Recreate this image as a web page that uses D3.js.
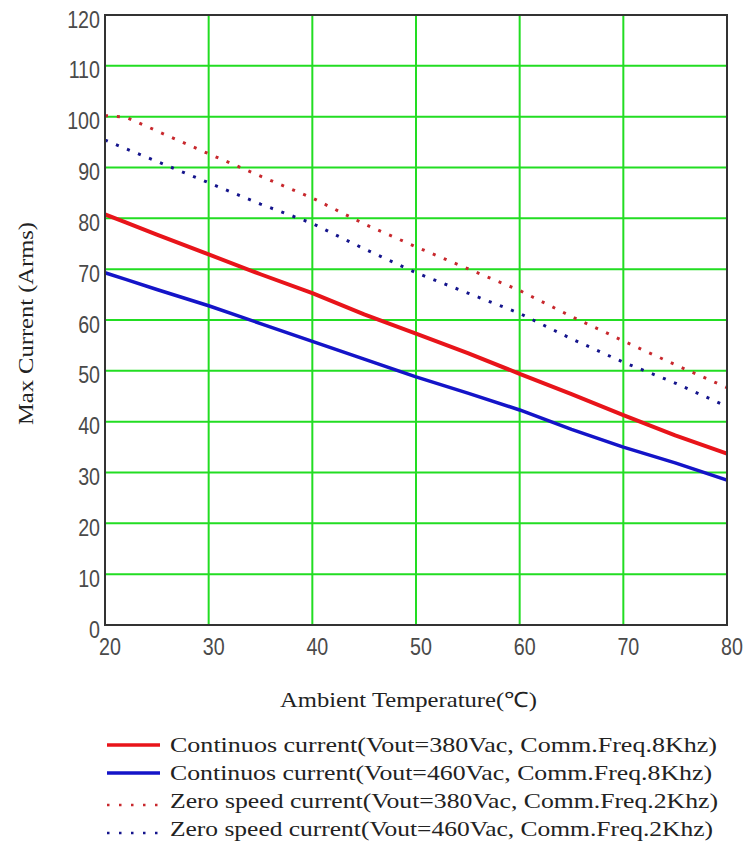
<!DOCTYPE html>
<html>
<head>
<meta charset="utf-8">
<script src="https://cdn.jsdelivr.net/npm/d3@7"></script>
<style>
  html, body { margin: 0; padding: 0; background: #ffffff; }
  svg { display: block; }
</style>
</head>
<body>
<svg id="chart" width="748" height="859"></svg>
<script>
// ---- data ----
const temps      = [20, 22, 25, 30, 35, 40, 45, 50, 55, 60, 65, 70, 75, 80];
const redSolid   = [80.8, 79.2, 76.8, 72.9, 69.0, 65.3, 61.1, 57.3, 53.5, 49.4, 45.4, 41.3, 37.3, 33.7];
const blueSolid  = [69.3, 68.0, 66.0, 62.8, 59.3, 55.8, 52.3, 48.8, 45.6, 42.3, 38.5, 35.0, 31.9, 28.5];
const redDotted  = [100.2, 99.9, 97.2, 92.7, 88.3, 84.0, 78.9, 74.4, 70.1, 65.8, 60.7, 55.9, 51.2, 46.7];
const blueDotted = [95.4, 93.7, 91.2, 87.0, 82.8, 79.0, 74.0, 69.3, 65.3, 61.3, 56.3, 51.7, 47.6, 43.0];
const xTicks = [20, 30, 40, 50, 60, 70, 80];
const yTicks = [0, 10, 20, 30, 40, 50, 60, 70, 80, 90, 100, 110, 120];
const xTitle = "Ambient Temperature(\u2103)";
const yTitle = "Max Current (Arms)";
const legendLabels = [
  "Continuos current(Vout=380Vac, Comm.Freq.8Khz)",
  "Continuos current(Vout=460Vac, Comm.Freq.8Khz)",
  "Zero speed current(Vout=380Vac, Comm.Freq.2Khz)",
  "Zero speed current(Vout=460Vac, Comm.Freq.2Khz)"
];

// ---- layout ----
const svg = d3.select("#chart");
const L = 105, R = 727, T = 15, B = 625;
const x = d3.scaleLinear().domain([20, 80]).range([L, R]);
const y = d3.scaleLinear().domain([0, 120]).range([B, T]);

const series = [
  { vals: redSolid,   color: "#e8141a", width: 4,   dash: null },
  { vals: blueSolid,  color: "#1414c8", width: 3.5, dash: null },
  { vals: redDotted,  color: "#c8282d", width: 3,   dash: "3,8.9" },
  { vals: blueDotted, color: "#14148c", width: 3,   dash: "3,8.9" }
];

// grid
const grid = svg.append("g");
grid.selectAll("line.h").data(yTicks.filter(v => v > 0 && v < 120)).join("line")
  .attr("x1", L).attr("x2", R).attr("y1", d => y(d)).attr("y2", d => y(d))
  .attr("stroke", "#22dd22").attr("stroke-width", 2);
grid.selectAll("line.v").data(xTicks.filter(v => v > 20 && v < 80)).join("line")
  .attr("y1", T).attr("y2", B).attr("x1", d => x(d)).attr("x2", d => x(d))
  .attr("stroke", "#22dd22").attr("stroke-width", 2);

// series
const line = d3.line().x((d, i) => x(temps[i])).y(d => y(d));
svg.append("g").selectAll("path").data(series).join("path")
  .attr("d", s => line(s.vals))
  .attr("fill", "none")
  .attr("stroke", s => s.color)
  .attr("stroke-width", s => s.width)
  .attr("stroke-dasharray", s => s.dash)
  .attr("stroke-linejoin", "round");

// frame
svg.append("rect").attr("x", L).attr("y", T).attr("width", R - L).attr("height", B - T)
  .attr("fill", "none").attr("stroke", "#333").attr("stroke-width", 2);

// axes (labels only)
const sx = 0.82;
const xAxis = svg.append("g").attr("transform", `translate(0,${B})`)
  .call(d3.axisBottom(x).tickValues(xTicks).tickSize(0).tickFormat(d3.format("d")));
xAxis.select(".domain").remove();
xAxis.selectAll("text")
  .attr("y", 30).attr("dy", null).attr("x", 4.5 / sx)
  .attr("transform", `scale(${sx},1)`)
  .attr("font-family", "'Liberation Sans', Arial, sans-serif")
  .attr("font-size", 24).attr("fill", "#4a4a4a");

const yAxis = svg.append("g").attr("transform", `translate(${L},0)`)
  .call(d3.axisLeft(y).tickValues(yTicks).tickSize(0).tickFormat(d3.format("d")));
yAxis.select(".domain").remove();
yAxis.selectAll("text")
  .attr("x", -5 / sx).attr("dy", null).attr("y", 12)
  .attr("transform", `scale(${sx},1)`)
  .attr("text-anchor", "end")
  .attr("font-family", "'Liberation Sans', Arial, sans-serif")
  .attr("font-size", 24).attr("fill", "#4a4a4a");

// titles
const serif = "'Liberation Serif', 'Times New Roman', serif";
svg.append("text").attr("x", 280).attr("y", 707)
  .attr("font-family", serif).attr("font-size", 21).attr("fill", "#222")
  .attr("textLength", 257).attr("lengthAdjust", "spacingAndGlyphs")
  .text(xTitle);
svg.append("text").attr("transform", "translate(33,425) rotate(-90)")
  .attr("font-family", serif).attr("font-size", 21).attr("fill", "#222")
  .attr("textLength", 203).attr("lengthAdjust", "spacingAndGlyphs")
  .text(yTitle);

// legend
const legBase = [752, 780, 808, 836];
const legWidths = [547, 542, 548, 543];
const leg = svg.append("g").selectAll("g").data(series).join("g");
leg.append("line")
  .attr("x1", 107).attr("x2", 160)
  .attr("y1", (s, i) => legBase[i] - (s.dash ? 3 : 7))
  .attr("y2", (s, i) => legBase[i] - (s.dash ? 3 : 7))
  .attr("stroke", s => s.color)
  .attr("stroke-width", s => s.dash ? 2.5 : 3.5)
  .attr("stroke-dasharray", s => s.dash ? "2.5,9.5" : null);
leg.append("text")
  .attr("x", 170).attr("y", (s, i) => legBase[i])
  .attr("font-family", serif).attr("font-size", 21).attr("fill", "#222")
  .attr("textLength", (s, i) => legWidths[i]).attr("lengthAdjust", "spacingAndGlyphs")
  .text((s, i) => legendLabels[i]);
</script>
</body>
</html>
